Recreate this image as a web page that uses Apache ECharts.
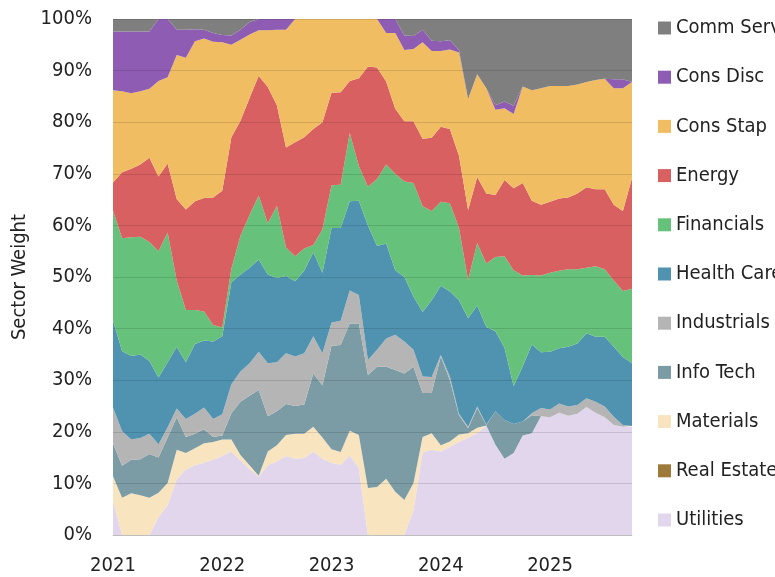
<!DOCTYPE html>
<html><head><meta charset="utf-8">
<script src="https://cdn.jsdelivr.net/npm/echarts/dist/echarts.min.js"></script>
<style>html,body{margin:0;padding:0;background:#fff}#c{width:775px;height:577px}</style>
</head><body><div id="c"></div>
<script>
const months = ['2021-01','2021-02','2021-03','2021-04','2021-05','2021-06','2021-07','2021-08','2021-09','2021-10','2021-11','2021-12',
'2022-01','2022-02','2022-03','2022-04','2022-05','2022-06','2022-07','2022-08','2022-09','2022-10','2022-11','2022-12',
'2023-01','2023-02','2023-03','2023-04','2023-05','2023-06','2023-07','2023-08','2023-09','2023-10','2023-11','2023-12',
'2024-01','2024-02','2024-03','2024-04','2024-05','2024-06','2024-07','2024-08','2024-09','2024-10','2024-11','2024-12',
'2025-01','2025-02','2025-03','2025-04','2025-05','2025-06','2025-07','2025-08','2025-09','2025-10'];

const utilities = [6.7,0,0,0,0,3.5,5.8,10.8,12.7,13.5, 14.0,14.6,15.3,16.2,14.5,12.8,11.3,13.5,14.3,15.3, 14.8,14.9,16.2,14.8,14.0,13.6,15.4,13.0,0,0, 0,0,0,4.8,16.0,16.5,16.2,17.1,18.0,18.9, 19.7,21.2,17.5,14.8,15.9,19.3,19.7,23.0,22.8,23.7, 23.1,23.5,24.8,23.7,22.8,21.3,21.0,21.0];
const realEstate = [0,0,0,0,0,0,0,0,0,0, 0,0,0,0,0,0,0,0,0,0, 0,0,0,0,0,0,0,0,0,0, 0,0,0,0,0,0,0,0,0,0, 0,0,0,0,0,0,0,0,0,0, 0,0,0,0,0,0,0,0];
const materials = [4.7,7.2,8.1,7.7,7.2,4.7,4.3,5.7,3.2,3.3, 3.8,3.4,3.2,2.3,1.0,0.7,0.2,2.7,3.1,4.1, 4.8,4.7,4.8,4.1,2.6,2.5,4.8,6.4,9.1,9.3, 10.9,8.4,6.8,5.3,3.0,3.2,1.2,1.0,1.5,0.8, 1.1,0,0,0,0,0,0,0,0,0, 0,0,0,0,0,0,0,0];
const infoTech = [6.4,6.2,6.5,7.0,8.5,6.8,8.8,6.3,3.1,2.8, 2.7,1.0,0.8,5.1,10.3,13.5,16.6,6.8,6.6,6.0, 5.4,5.7,10.3,10.1,20.1,20.7,20.8,21.6,21.9,23.3, 21.7,23.6,24.5,22.5,8.5,7.8,17.2,11.9,3.7,1.0, 3.8,0.1,6.5,7.5,5.6,2.7,3.5,0,0,0, 0,0,0,0,0,0,0,0];
const industrials = [6.9,6.7,3.9,4.1,3.9,2.6,2.0,1.7,3.5,3.9, 4.2,3.5,4.1,5.6,5.9,6.3,7.4,10.3,9.5,9.8, 9.6,9.9,7.2,6.2,4.5,4.7,6.4,5.5,2.9,3.3, 5.5,6.8,6.2,3.3,3.2,3.1,0.3,0.7,0.3,0.3, 0.3,0.1,0,0,0,0,0.4,1.6,1.5,1.8, 1.8,1.7,1.7,2.1,2.1,1.6,0.3,0.1];
const healthCare = [16.9,15.5,16.2,16.2,14.1,12.9,12.6,12.0,11.0,13.5, 13.0,15.0,15.1,19.8,18.8,18.5,17.9,17.2,16.3,15.0, 14.6,16.0,16.3,15.6,18.3,18.0,17.3,18.3,26.1,20.1, 18.4,12.5,12.5,10.3,12.5,14.9,13.4,16.5,22.0,21.0, 19.6,18.9,15.5,14.0,7.4,10.7,13.3,10.8,11.2,10.7, 11.6,11.9,12.6,12.6,13.5,13.6,13.2,12.2];
const financials = [21.3,21.9,23.0,22.8,23.1,24.5,25.1,12.8,10.1,6.6, 5.6,3.2,1.7,2.6,7.5,10.2,12.4,9.9,14.0,5.5, 4.8,4.3,1.4,8.4,8.3,8.4,13.2,6.7,7.5,13.0, 15.3,18.7,18.5,22.0,20.5,17.3,16.3,17.1,14.0,7.4, 12.1,12.3,14.4,17.7,22.4,17.6,13.5,14.9,15.3,15.0, 15.0,14.4,12.7,13.7,13.1,12.8,12.8,14.4];
const energy = [5.4,12.8,13.3,14.0,16.3,14.5,13.4,15.8,19.5,21.1, 22.0,24.7,26.5,25.5,22.3,22.7,23.2,26.4,19.5,19.4, 22.1,21.6,22.5,20.8,17.9,17.9,10.1,17.0,23.3,21.6, 16.1,12.6,11.7,12.0,13.1,14.2,14.5,14.4,14.0,13.6, 12.8,13.6,12.0,14.8,15.9,17.9,14.4,13.7,13.8,14.0, 13.9,14.7,15.6,14.9,15.5,14.7,15.5,21.5];
const consStap = [17.9,15.7,14.6,14.2,13.4,18.5,16.7,27.9,29.4,31.0, 30.9,30.2,28.8,17.9,15.7,12.3,8.8,11.0,14.6,22.8, 23.9,22.9,21.3,20.0,14.3,14.2,12.0,11.5,9.2,9.4, 9.4,14.7,13.8,14.0,18.7,16.8,14.7,15.4,20.0,21.5, 19.9,20.4,16.5,13.9,14.4,18.7,21.4,22.6,22.4,21.8, 21.6,21.1,20.4,21.2,21.4,22.6,23.8,18.6];
const consDisc = [11.4,11.6,12.0,11.6,11.1,12.0,11.3,4.9,5.4,2.3, 1.7,1.7,1.4,1.8,1.9,2.4,2.2,2.2,2.1,2.1, 0,0,0,0,0,0,0,0,0,0, 2.7,2.7,2.8,2.5,2.4,2.0,1.9,1.8,0.5,0, 0,0,0.9,1.3,1.6,0,0,0,0,0, 0,0,0,0,0,1.7,1.7,0];
const commServ = [2.4,2.4,2.4,2.4,2.4,0,0,2.1,2.1,2.0, 2.1,2.7,3.1,3.2,2.1,0.6,0,0,0,0, 0,0,0,0,0,0,0,0,0,0, 0,0,3.2,3.3,2.1,4.2,4.3,4.1,6.0,15.5, 10.7,13.4,16.7,16.0,16.8,13.1,13.8,13.4,13.0,13.0, 13.0,12.7,12.2,11.8,11.6,11.7,11.7,12.2];

const sectorNames = ['Utilities','Real Estate','Materials','Info Tech','Industrials','Health Care','Financials','Energy','Cons Stap','Cons Disc','Comm Serv'];
const sectorData = [utilities, realEstate, materials, infoTech, industrials, healthCare, financials, energy, consStap, consDisc, commServ];
const sectorColors = ['#e2d6ec','#9d7a3a','#f9e4c0','#7b9ba5','#b5b5b5','#4f93b0','#66c17a','#d96060','#f0bd62','#8e5db3','#7f7f7f'];

const FONT = "'Liberation Sans Narrow','DejaVu Sans Condensed','Roboto Condensed',sans-serif";
const chart = echarts.init(document.getElementById('c'), null, {renderer:'canvas'});
chart.setOption({
  animation:false,
  grid:{left:113,right:143,top:19,bottom:42,show:false},
  legend:{
    orient:'vertical', left:658, top:18, padding:0, itemWidth:13, itemHeight:13, itemGap:29.2, icon:'rect',
    selectedMode:false,
    data: sectorNames.slice().reverse(),
    textStyle:{fontFamily:FONT, fontSize:20, color:'#222', lineHeight:20}
  },
  xAxis:{
    type:'category', data:months, boundaryGap:false,
    axisLine:{show:true, lineStyle:{color:'#d9d9d9'}},
    axisTick:{show:false},
    axisLabel:{interval:11, formatter:v=>v.slice(0,4), fontFamily:FONT, fontSize:20, color:'#222', margin:21},
    splitLine:{show:false}
  },
  yAxis:{
    type:'value', min:0, max:100, interval:10, z:10,
    axisLine:{show:false}, axisTick:{show:false},
    axisLabel:{formatter:'{value}%', fontFamily:FONT, fontSize:20, color:'#222', margin:21},
    splitLine:{show:true, lineStyle:{color:'rgba(0,0,0,0.12)', width:1}},
    name:'Sector Weight', nameLocation:'middle', nameGap:83, nameRotate:90,
    nameTextStyle:{fontFamily:FONT, fontSize:20, color:'#222'}
  },
  series: sectorNames.map((n,k)=>({
    name:n, type:'line', stack:'total', data:sectorData[k], symbol:'none', showSymbol:false,
    lineStyle:{width:0}, itemStyle:{color:sectorColors[k]},
    areaStyle:{color:sectorColors[k], opacity:1},
    emphasis:{disabled:true}
  }))
});
</script></body></html>
